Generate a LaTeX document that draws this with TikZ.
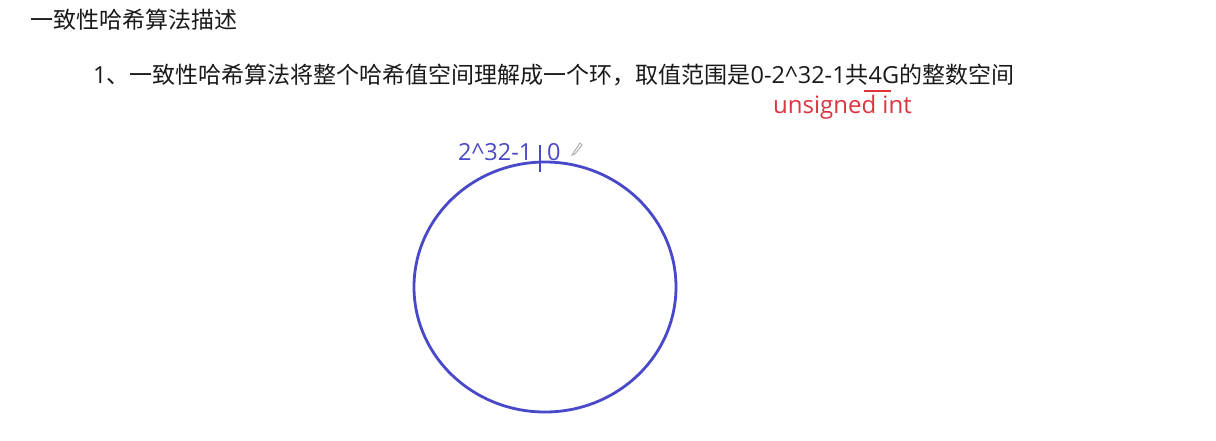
\documentclass[tikz,border=0pt]{standalone}
\usepackage{fontspec}
\setmainfont{Noto Sans CJK SC}
\newfontfamily\lat{Open Sans}
\newcommand{\latin}[1]{{\lat\fontsize{23.5}{27}\selectfont #1}}
\definecolor{ringblue}{RGB}{72,72,200}
\definecolor{notered}{RGB}{222,52,64}
\definecolor{txt}{RGB}{25,25,25}
\begin{document}
\begin{tikzpicture}[x=1pt,y=-1pt,
  txtstyle/.style={anchor=base west,inner sep=0pt,font=\fontsize{23}{27}\selectfont,text=txt},
  bluetxt/.style={anchor=base west,inner sep=0pt,font=\fontsize{23.5}{28}\selectfont\lat,text=ringblue},
  redtxt/.style={anchor=base west,inner sep=0pt,font=\fontsize{24}{28}\selectfont\lat,text=notered}]
\useasboundingbox[fill=white] (0,0) rectangle (1216,440);
\node[txtstyle] (title) at (30,28) {一致性哈希算法描述};
\node[txtstyle] (line) at (93,83) {\latin{1}、一致性哈希算法将整个哈希值空间理解成一个环，取值范围是\latin{0-2\^{}32-1}共\latin{4G}的整数空间};
\node[redtxt] (uint) at (773,113) {unsigned int};
\draw[notered,line width=2.2pt] (864,91) -- (891,91);
\draw[ringblue,line width=2.8pt] (545,287) ellipse [x radius=131, y radius=125];
\draw[ringblue,line width=2.5pt] (540,145) -- (540,172);
\node[bluetxt] (max) at (458,160) {2\^{}32-1};
\node[bluetxt] (zero) at (547,160) {0};
\draw[gray!60,line width=1pt] (574,152) -- (572,155) -- (575,154) -- (582,145) -- (580,143) -- cycle;
\end{tikzpicture}
\end{document}
